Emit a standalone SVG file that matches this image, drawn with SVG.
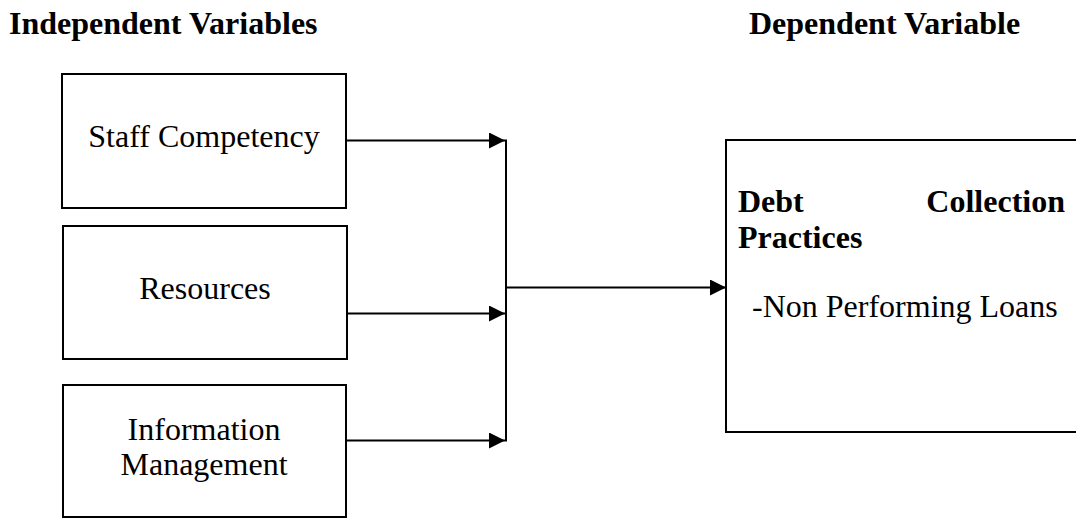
<svg xmlns="http://www.w3.org/2000/svg" width="1076" height="519" viewBox="0 0 1076 519">
  <style>
    .box { fill: #ffffff; stroke: #000000; stroke-width: 2; }
    .line { fill: none; stroke: #000000; stroke-width: 2; }
    .label { font-family: "Liberation Serif", "Times New Roman", serif; font-size: 32px; fill: #000000; }
    .bold { font-weight: bold; }
  </style>
  <defs>
    <marker id="arrow" markerWidth="17" markerHeight="16" refX="16" refY="8" orient="auto" markerUnits="userSpaceOnUse">
      <path d="M0,0 L16,8 L0,16 Z" fill="#000000"/>
    </marker>
  </defs>
  <rect width="1076" height="519" fill="#ffffff"/>

  <!-- column headings -->
  <text class="label bold" x="9" y="34">Independent Variables</text>
  <text class="label bold" x="749" y="34">Dependent Variable</text>

  <g id="staff-competency">
    <rect class="box" x="62" y="74" width="284" height="134"/>
    <text class="label" x="204" y="147" text-anchor="middle">Staff Competency</text>
  </g>

  <g id="resources">
    <rect class="box" x="63" y="226" width="284" height="133"/>
    <text class="label" x="205" y="299" text-anchor="middle">Resources</text>
  </g>

  <g id="information-management">
    <rect class="box" x="63" y="385" width="283" height="132"/>
    <text class="label" x="204" y="440" text-anchor="middle">Information</text>
    <text class="label" x="204" y="475" text-anchor="middle">Management</text>
  </g>

  <g id="debt-collection">
    <rect class="box" x="726" y="140" width="360" height="292"/>
    <text class="label bold" x="738" y="212">Debt</text>
    <text class="label bold" x="1065" y="212" text-anchor="end">Collection</text>
    <text class="label bold" x="738" y="248">Practices</text>
    <text class="label" x="752" y="317">-Non Performing Loans</text>
  </g>

  <g id="connectors">
    <line class="line" x1="346" y1="140.5" x2="505" y2="140.5" marker-end="url(#arrow)"/>
    <line class="line" x1="347" y1="313.5" x2="505" y2="313.5" marker-end="url(#arrow)"/>
    <line class="line" x1="346" y1="440.5" x2="505" y2="440.5" marker-end="url(#arrow)"/>
    <line class="line" x1="506" y1="139.5" x2="506" y2="441.5"/>
    <line class="line" x1="506" y1="287.5" x2="726" y2="287.5" marker-end="url(#arrow)"/>
  </g>
</svg>
